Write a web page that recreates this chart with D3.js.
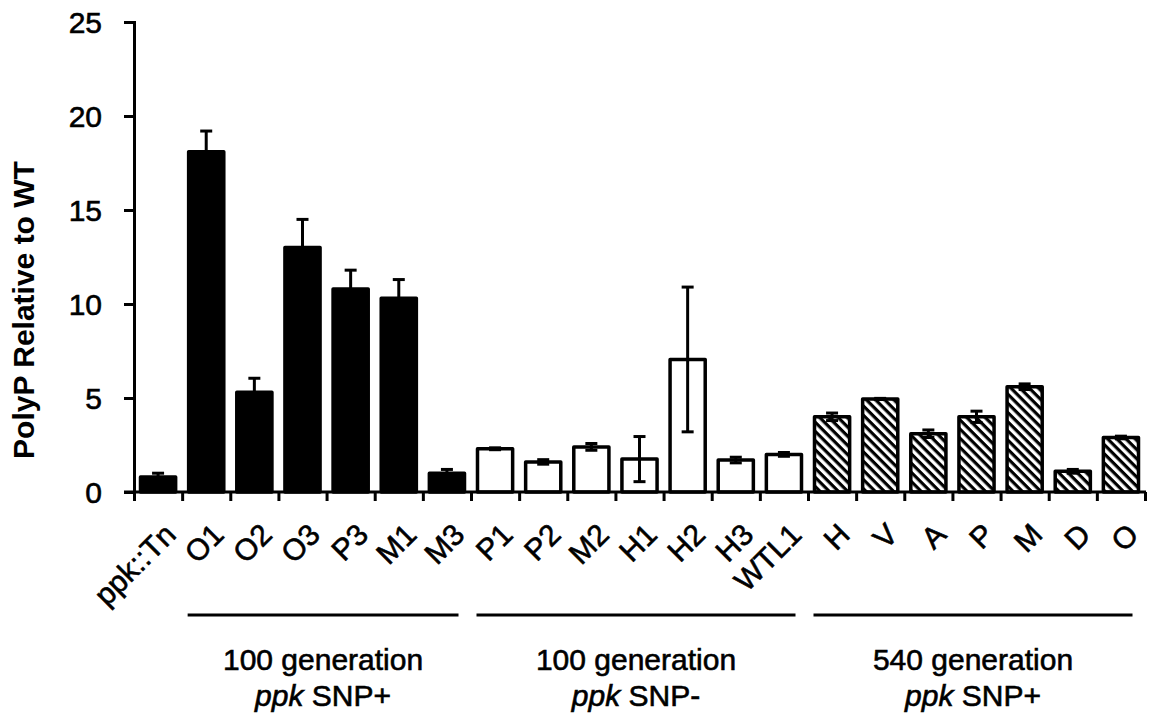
<!DOCTYPE html>
<html>
<head>
<meta charset="utf-8">
<script src="https://cdn.jsdelivr.net/npm/d3@7"></script>
<style>
  body { margin: 0; background: #fff; }
  svg text { font-family: "Liberation Sans", Arial, sans-serif; fill: #000; }
  .heavy { stroke: #000; stroke-width: 0.6px; }
</style>
</head>
<body>
<div id="chart"></div>
<script>
// strain names along the x axis
let categories = ['ppk::Tn', 'O1', 'O2', 'O3', 'P3', 'M1', 'M3',
                  'P1', 'P2', 'M2', 'H1', 'H2', 'H3', 'WTL1',
                  'H', 'V', 'A', 'P', 'M', 'D', 'O']
// PolyP relative to WT
let values = [0.8, 18.1, 5.3, 13.0, 10.8, 10.3, 1.0,
              2.3, 1.6, 2.4, 1.75, 7.05, 1.7, 2.0,
              4.0, 4.95, 3.1, 4.0, 5.6, 1.1, 2.9]
// error bar half-lengths
let errors = [0.2, 1.1, 0.75, 1.5, 1.0, 1.0, 0.2,
              0.05, 0.12, 0.18, 1.2, 3.85, 0.15, 0.1,
              0.2, 0.03, 0.2, 0.3, 0.15, 0.1, 0.07]
// fill style per bar
let fills = ['solid', 'solid', 'solid', 'solid', 'solid', 'solid', 'solid',
             'open', 'open', 'open', 'open', 'open', 'open', 'open',
             'hatch', 'hatch', 'hatch', 'hatch', 'hatch', 'hatch', 'hatch']
let yTicks = [0, 5, 10, 15, 20, 25]

// groups under the axis
let groupFirst = ['O1', 'P1', 'H']
let groupLast = ['M3', 'WTL1', 'O']
let groupLine1 = ['100 generation', '100 generation', '540 generation']
let groupLine2 = ['SNP+', 'SNP-', 'SNP+']

let width = 1151, height = 715
let plotLeft = 134, plotRight = 1145, plotTop = 22, plotBottom = 492

let svg = d3.select('#chart').append('svg')
    .attr('width', width)
    .attr('height', height)

// diagonal hatch for the 540 generation bars
let defs = svg.append('defs')
let pat = defs.append('pattern')
    .attr('id', 'hatch')
    .attr('patternUnits', 'userSpaceOnUse')
    .attr('width', 6.5)
    .attr('height', 6.5)
    .attr('patternTransform', 'rotate(45)')
pat.append('rect').attr('width', 6.5).attr('height', 6.5).attr('fill', '#fff')
pat.append('rect').attr('width', 6.5).attr('height', 3.2).attr('fill', '#000')

let x = d3.scaleBand()
    .domain(categories)
    .range([plotLeft, plotRight])
    .paddingInner(0.27)
    .paddingOuter(0.135)

let y = d3.scaleLinear()
    .domain([0, 25])
    .range([plotBottom, plotTop])

// tick marks sit on the band edges
let xEdge = d3.scaleLinear()
    .domain([0, categories.length])
    .range([plotLeft, plotRight])

// bars
let bars = svg.append('g')
categories.forEach((c, i) => {
    bars.append('rect')
        .attr('x', x(c))
        .attr('y', y(values[i]))
        .attr('width', x.bandwidth())
        .attr('height', y(0) - y(values[i]))
        .attr('fill', fills[i] === 'solid' ? '#000' : fills[i] === 'open' ? '#fff' : 'url(#hatch)')
        .attr('stroke', '#000')
        .attr('stroke-width', 3.5)
        .attr('stroke-linejoin', 'round')
})

// error bars
let errG = svg.append('g').attr('stroke', '#000').attr('stroke-width', 3)
categories.forEach((c, i) => {
    let cx = x(c) + x.bandwidth() / 2
    let hi = y(values[i] + errors[i]), lo = y(values[i] - errors[i])
    errG.append('line').attr('x1', cx).attr('x2', cx).attr('y1', hi).attr('y2', lo)
    errG.append('line').attr('x1', cx - 6).attr('x2', cx + 6).attr('y1', hi).attr('y2', hi)
    errG.append('line').attr('x1', cx - 6).attr('x2', cx + 6).attr('y1', lo).attr('y2', lo)
})

// y axis
let yAxis = svg.append('g')
    .attr('transform', `translate(${plotLeft},0)`)
    .call(d3.axisLeft(y).tickValues(yTicks).tickSize(10).tickPadding(22).tickFormat(d3.format('d')))
yAxis.select('.domain').attr('stroke-width', 3)
yAxis.selectAll('.tick line').attr('stroke-width', 3)
yAxis.selectAll('.tick text')
    .attr('class', 'heavy')
    .style('font-size', '30px')
    .attr('dy', '0.36em')

// x axis (ticks between bars)
let xAxis = svg.append('g')
    .attr('transform', `translate(0,${plotBottom})`)
    .call(d3.axisBottom(xEdge).tickValues(d3.range(categories.length + 1)).tickSize(9).tickFormat(''))
xAxis.select('.domain').attr('stroke-width', 3).attr('d', `M${plotLeft - 10},0H${plotRight + 1}`)
xAxis.selectAll('.tick line').attr('stroke-width', 3)

// rotated category labels
svg.append('g').selectAll('text')
    .data(categories)
    .enter()
    .append('text')
    .attr('class', 'heavy')
    .attr('transform', d => `translate(${x(d) + x.bandwidth() / 2 + 12},${plotBottom + 37}) rotate(-45)`)
    .attr('text-anchor', 'end')
    .attr('dy', '0.35em')
    .style('font-size', '30px')
    .text(d => d)

// y axis title
svg.append('text')
    .attr('transform', `translate(34,310) rotate(-90)`)
    .attr('text-anchor', 'middle')
    .style('font-size', '30px')
    .style('font-weight', 'bold')
    .text('PolyP Relative to WT')

// group lines and captions
let gg = svg.append('g')
groupFirst.forEach((f, i) => {
    let x1 = x(f) - 1
    let x2 = x(groupLast[i]) + x.bandwidth() - 6
    let mid = (x1 + x2) / 2
    gg.append('line')
        .attr('x1', x1).attr('x2', x2)
        .attr('y1', 615).attr('y2', 615)
        .attr('stroke', '#000').attr('stroke-width', 3)
    gg.append('text')
        .attr('class', 'heavy')
        .attr('x', mid).attr('y', 670)
        .attr('text-anchor', 'middle')
        .style('font-size', '30px')
        .text(groupLine1[i])
    let t = gg.append('text')
        .attr('class', 'heavy')
        .attr('x', mid).attr('y', 706)
        .attr('text-anchor', 'middle')
        .style('font-size', '30px')
    t.append('tspan').style('font-style', 'italic').text('ppk')
    t.append('tspan').text(' ' + groupLine2[i])
})
</script>
</body>
</html>
